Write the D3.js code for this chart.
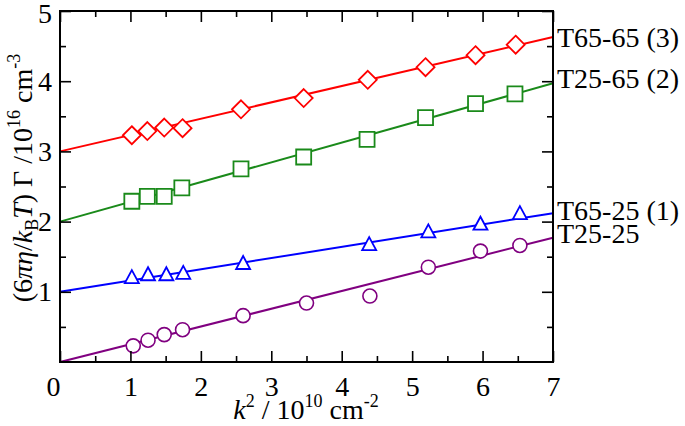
<!DOCTYPE html>
<html><head><meta charset="utf-8">
<script src="https://cdn.jsdelivr.net/npm/d3@7"></script>
<style>
body{margin:0;background:#fff;}
text{font-family:"Liberation Serif","Times New Roman",serif;}
</style></head>
<body><svg id="c" width="685" height="426"></svg>
<script>
// ---- data ----
const seriesNames = ["T65-65 (3)", "T25-65 (2)", "T65-25 (1)", "T25-25"];
const seriesColors = ["#ff0000", "#1a8a1a", "#0000ff", "#800080"];
const seriesMarkers = ["diamond", "square", "triangle", "circle"];

const x_T6565 = [1.02, 1.24, 1.48, 1.74, 2.57, 3.46, 4.37, 5.19, 5.90, 6.47];
const y_T6565 = [3.23, 3.29, 3.34, 3.33, 3.60, 3.76, 4.02, 4.20, 4.37, 4.52];

const x_T2565 = [1.02, 1.24, 1.48, 1.73, 2.57, 3.46, 4.36, 5.19, 5.90, 6.46];
const y_T2565 = [2.29, 2.36, 2.36, 2.48, 2.75, 2.92, 3.17, 3.48, 3.68, 3.82];

const x_T6525 = [1.02, 1.25, 1.51, 1.75, 2.60, 4.39, 5.23, 5.97, 6.53];
const y_T6525 = [1.21, 1.25, 1.25, 1.27, 1.41, 1.68, 1.86, 1.97, 2.12];

const x_T2525 = [1.04, 1.25, 1.48, 1.74, 2.60, 3.50, 4.40, 5.23, 5.97, 6.53];
const y_T2525 = [0.23, 0.31, 0.39, 0.46, 0.66, 0.84, 0.94, 1.35, 1.58, 1.66];

// linear fits (value at k^2=0, value at k^2=7)
const fitStart = [3.00, 2.00, 1.00, 0.00];
const fitEnd   = [4.63, 3.97, 2.12, 1.77];

const xTicks = [0, 1, 2, 3, 4, 5, 6, 7];
const yTicks = [1, 2, 3, 4, 5];

// ---- drawing ----
const svg = d3.select("#c");
const L = 60, R = 553, T = 11, B = 362;
const x = d3.scaleLinear().domain([0, 7]).range([L, R]);
const y = d3.scaleLinear().domain([0, 5]).range([B, T]);
const FS = 28, SS = 18;

const xs = [x_T6565, x_T2565, x_T6525, x_T2525];
const ys = [y_T6565, y_T2565, y_T6525, y_T2525];

// fit lines
const g = svg.append("g");
seriesNames.forEach((n, i) => {
  g.append("line")
    .attr("x1", x(0)).attr("y1", y(fitStart[i]))
    .attr("x2", x(7)).attr("y2", y(fitEnd[i]))
    .attr("stroke", seriesColors[i]).attr("stroke-width", 2);
});

function markerPath(type) {
  if (type === "diamond") return "M0,-9L9,0L0,9L-9,0Z";
  if (type === "square") return "M-7.5,-7.5H7.5V7.5H-7.5Z";
  if (type === "triangle") return "M0,-7L7,6H-7Z";
  return null;
}

seriesNames.forEach((n, i) => {
  const pts = xs[i].map((v, j) => [v, ys[i][j]]);
  const mg = svg.append("g");
  pts.forEach(p => {
    if (seriesMarkers[i] === "circle") {
      mg.append("circle").attr("cx", x(p[0])).attr("cy", y(p[1])).attr("r", 7)
        .attr("fill", "#fff").attr("stroke", seriesColors[i]).attr("stroke-width", 1.6);
    } else {
      mg.append("path").attr("d", markerPath(seriesMarkers[i]))
        .attr("transform", `translate(${x(p[0])},${y(p[1])})`)
        .attr("fill", "#fff").attr("stroke", seriesColors[i]).attr("stroke-width", 1.8);
    }
  });
});

// axes with inner ticks
const minorX = d3.range(0.5, 7, 1);
const minorY = d3.range(0.5, 5, 1);
function tickStyle(sel) {
  sel.select(".domain").remove();
  sel.selectAll("line").attr("stroke", "#000").attr("stroke-width", 1.6);
}
svg.append("g").attr("transform", `translate(0,${B})`)
  .call(d3.axisBottom(x).tickValues(xTicks).tickSize(-11).tickPadding(14).tickFormat(d3.format("d")))
  .call(tickStyle)
  .call(s => s.selectAll("text").attr("font-size", FS).attr("fill", "#000")
    .attr("font-family", "Liberation Serif").attr("dx", d => d === 0 ? -7 : 0));
svg.append("g").attr("transform", `translate(0,${B})`)
  .call(d3.axisBottom(x).tickValues(minorX).tickSize(-6).tickFormat("")).call(tickStyle);
svg.append("g").attr("transform", `translate(0,${T})`)
  .call(d3.axisTop(x).tickValues(xTicks).tickSize(-11).tickFormat("")).call(tickStyle);
svg.append("g").attr("transform", `translate(0,${T})`)
  .call(d3.axisTop(x).tickValues(minorX).tickSize(-6).tickFormat("")).call(tickStyle);

svg.append("g").attr("transform", `translate(${L},0)`)
  .call(d3.axisLeft(y).tickValues(yTicks).tickSize(-11).tickPadding(8).tickFormat(d3.format("d")))
  .call(tickStyle)
  .call(s => s.selectAll("text").attr("font-size", FS).attr("fill", "#000")
    .attr("font-family", "Liberation Serif").attr("dy", d => d === 5 ? "0.42em" : "0.32em"));
svg.append("g").attr("transform", `translate(${L},0)`)
  .call(d3.axisLeft(y).tickValues(minorY).tickSize(-6).tickFormat("")).call(tickStyle);
svg.append("g").attr("transform", `translate(${R},0)`)
  .call(d3.axisRight(y).tickValues(yTicks).tickSize(-11).tickFormat("")).call(tickStyle);
svg.append("g").attr("transform", `translate(${R},0)`)
  .call(d3.axisRight(y).tickValues(minorY).tickSize(-6).tickFormat("")).call(tickStyle);

// frame
svg.append("rect").attr("x", L).attr("y", T).attr("width", R - L).attr("height", B - T)
  .attr("fill", "none").attr("stroke", "#000").attr("stroke-width", 2);

// series labels at right
const labelY = [47, 88, 220, 243];
seriesNames.forEach((n, i) => {
  svg.append("text").attr("x", 557).attr("y", labelY[i]).attr("font-size", FS)
    .attr("fill", "#000").text(n);
});

// x axis title
const xt = svg.append("text").attr("x", 306).attr("y", 419).attr("text-anchor", "middle")
  .attr("font-size", FS).attr("fill", "#000");
xt.append("tspan").attr("font-style", "italic").text("k");
xt.append("tspan").attr("font-size", SS).attr("dy", -12).text("2");
xt.append("tspan").attr("dy", 12).text(" / 10");
xt.append("tspan").attr("font-size", SS).attr("dy", -12).text("10");
xt.append("tspan").attr("dy", 12).text(" cm");
xt.append("tspan").attr("font-size", SS).attr("dy", -12).text("-2");

// y axis title
const yt = svg.append("text").attr("transform", "translate(32,178) rotate(-90)")
  .attr("text-anchor", "middle").attr("font-size", FS).attr("fill", "#000");
yt.append("tspan").text("(6");
yt.append("tspan").attr("font-style", "italic").text("πη");
yt.append("tspan").text("/");
yt.append("tspan").attr("font-style", "italic").text("k");
yt.append("tspan").attr("font-size", SS).attr("dy", 6).text("B");
yt.append("tspan").attr("font-style", "italic").attr("dy", -6).text("T");
yt.append("tspan").text(") Γ /10");
yt.append("tspan").attr("font-size", SS).attr("dy", -12).text("16");
yt.append("tspan").attr("dy", 12).text(" cm");
yt.append("tspan").attr("font-size", SS).attr("dy", -12).text("-3");
</script>
</body></html>
